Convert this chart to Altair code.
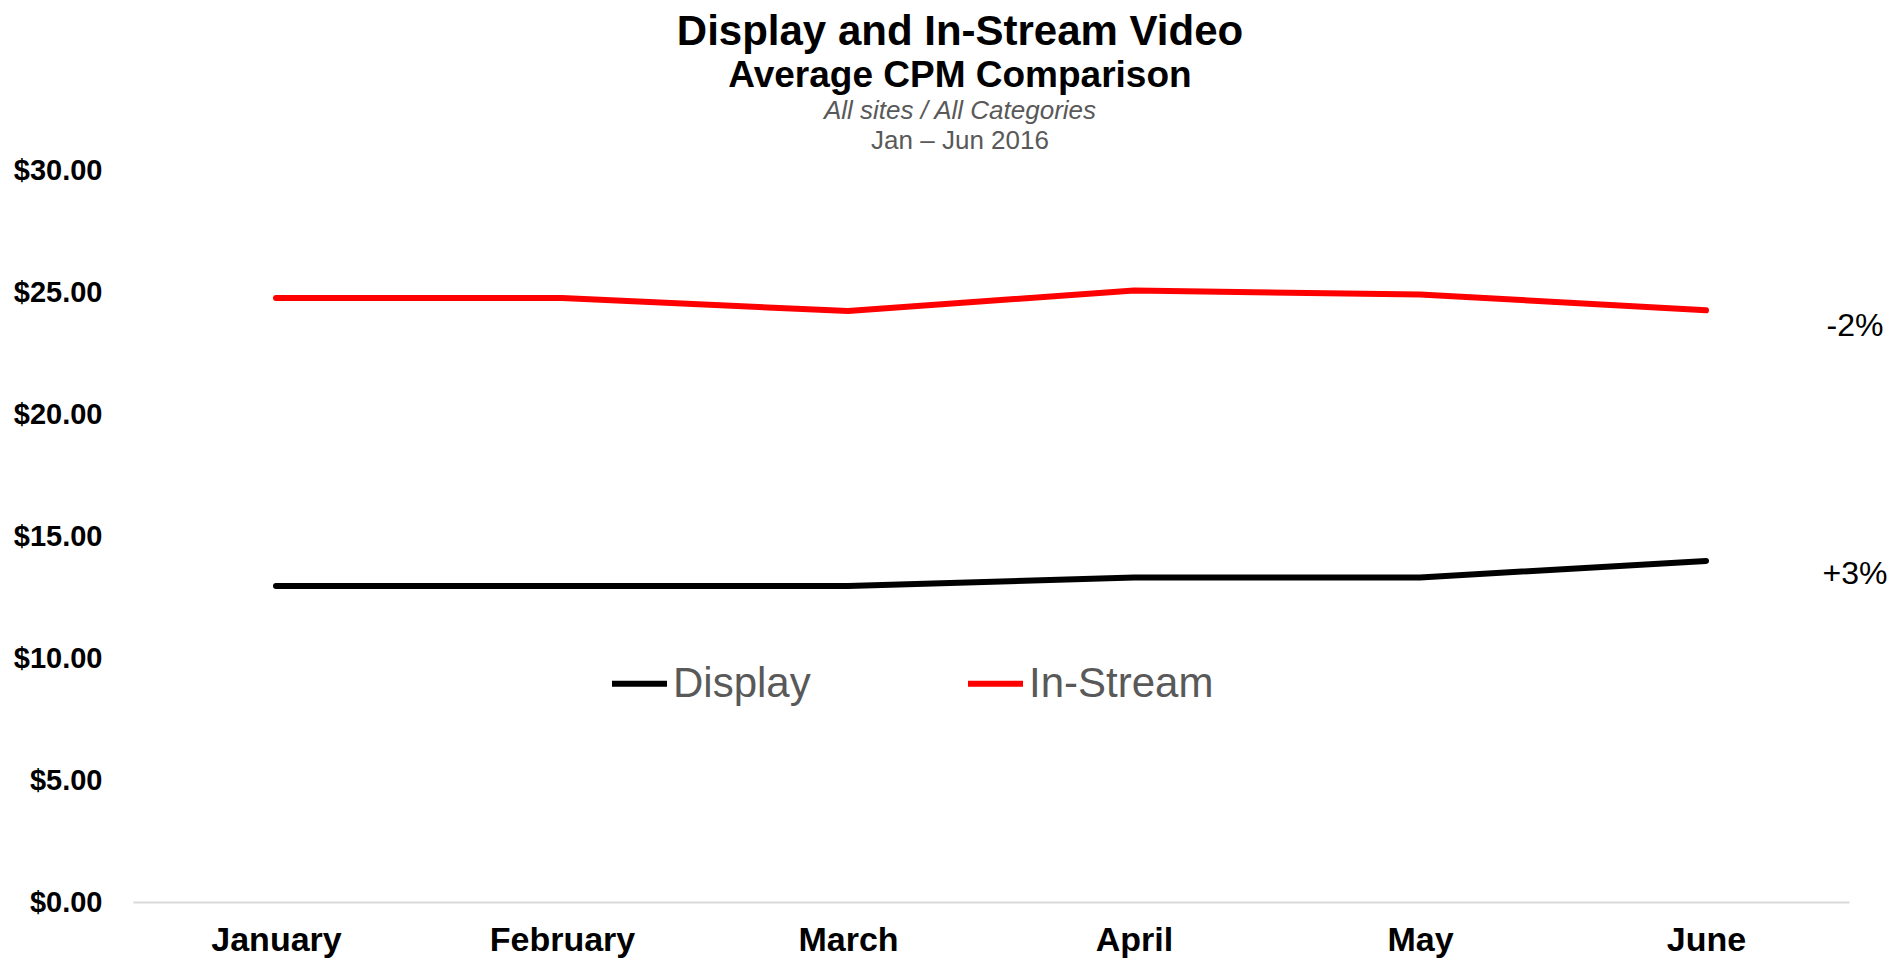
import altair as alt
import pandas as pd

# ---- data ----
months = ["January", "February", "March", "April", "May", "June"]
display_cpm = [12.95, 12.95, 12.95, 13.30, 13.30, 13.98]
instream_cpm = [24.75, 24.75, 24.22, 25.06, 24.90, 24.25]
series_names = ["Display", "In-Stream"]
series_colors = ["#000000", "#ff0000"]

change_labels = ["-2%", "+3%"]
change_label_y = [23.6, 13.45]
change_label_month = ["June", "June"]

title_line1 = "Display and In-Stream Video"
title_line2 = "Average CPM Comparison"
title_line3 = "All sites / All Categories"
title_line4 = "Jan \u2013 Jun 2016"

y_ticks = [0, 5, 10, 15, 20, 25, 30]

FONT = "Liberation Sans"
W, H = 1716, 732

rows = []
for m, d, s in zip(months, display_cpm, instream_cpm):
    rows.append({"month": m, "series": "Display", "cpm": d})
    rows.append({"month": m, "series": "In-Stream", "cpm": s})
df = pd.DataFrame(rows)

ann = pd.DataFrame({"month": change_label_month, "cpm": change_label_y, "label": change_labels})

x_enc = alt.X(
    "month:N",
    sort=months,
    scale=alt.Scale(domain=months, padding=0.5),
    axis=alt.Axis(
        title=None, labelAngle=0, ticks=False, grid=False,
        domainColor="#d9d9d9", domainWidth=2,
        labelFont=FONT, labelFontSize=34, labelFontWeight="bold", labelColor="#000000",
        labelPadding=38, labelBaseline="middle",
    ),
)
y_enc = alt.Y(
    "cpm:Q",
    scale=alt.Scale(domain=[0, 30], nice=False, zero=True),
    axis=alt.Axis(
        title=None, values=y_ticks, format="$.2f", domain=False, ticks=False, grid=False,
        labelFont=FONT, labelFontSize=29, labelFontWeight="bold", labelColor="#000000",
        labelPadding=31,
    ),
)

lines = alt.Chart(df).mark_line(strokeWidth=6, strokeCap="round", strokeJoin="round").encode(
    x=x_enc,
    y=y_enc,
    color=alt.Color(
        "series:N",
        scale=alt.Scale(domain=series_names, range=series_colors),
        sort=series_names,
        legend=alt.Legend(
            title=None, orient="none", legendX=476, legendY=483, direction="horizontal",
            symbolType="stroke", symbolSize=3025, symbolStrokeWidth=6,
            labelFont=FONT, labelFontSize=42, labelColor="#595959", labelLimit=400,
            columnPadding=145, labelOffset=3, padding=0,
        ),
    ),
)

annot = alt.Chart(ann).mark_text(
    font=FONT, fontSize=32, color="#000000", align="center", baseline="middle", dx=149
).encode(x=alt.X("month:N", sort=months), y=alt.Y("cpm:Q"), text="label:N")


def title_text(txt, y, size, weight="normal", style="normal", color="#000000"):
    return alt.Chart(pd.DataFrame({"t": [txt]})).mark_text(
        font=FONT, fontSize=size, fontWeight=weight, fontStyle=style, color=color,
        align="center", baseline="alphabetic",
    ).encode(text="t:N", x=alt.value(827), y=alt.value(y))


t1 = title_text(title_line1, -125, 42, weight="bold")
t2 = title_text(title_line2, -83, 37, weight="bold")
t3 = title_text(title_line3, -51, 26, style="italic", color="#595959")
t4 = title_text(title_line4, -21, 26, color="#595959")

chart = alt.layer(lines, annot, t1, t2, t3, t4).properties(
    width=W,
    height=H,
    autosize=alt.AutoSizeParams(type="none"),
    padding={"left": 125, "top": 162, "right": 38, "bottom": 56},
).configure(background="white").configure_view(strokeWidth=0, stroke=None)

chart.save("out.html", embed_options={"renderer": "svg", "actions": False})
